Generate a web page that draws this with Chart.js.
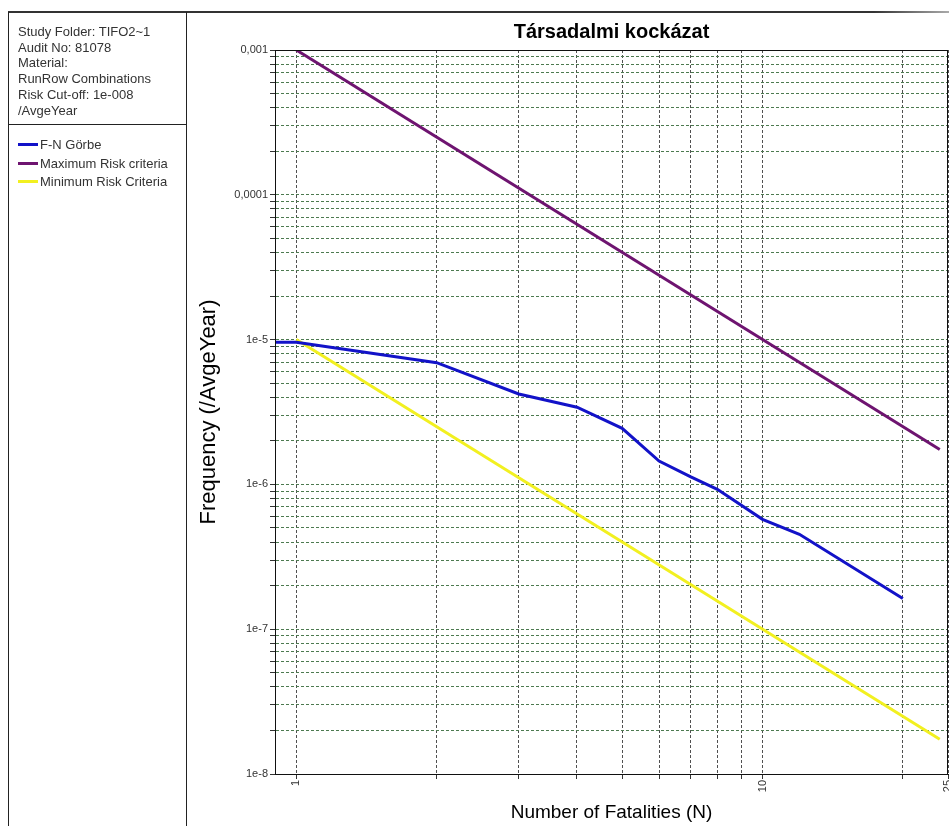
<!DOCTYPE html>
<html>
<head>
<meta charset="utf-8">
<script src="https://cdn.jsdelivr.net/npm/chart.js@4/dist/chart.umd.min.js"></script>
<style>
  html, body { margin: 0; padding: 0; background: #fff; }
  body { width: 949px; height: 826px; position: relative; overflow: hidden;
         font-family: "Liberation Sans", Arial, sans-serif; }
  #chart { position: absolute; left: 0; top: 0; }
  .frame-top { position: absolute; left: 8px; top: 11px; width: 941px; height: 2px;
               background: linear-gradient(to right, #333 0%, #333 92%, #aaa 100%); }
  .panel { position: absolute; left: 8px; top: 12px; width: 177px; height: 814px;
           border-left: 1px solid #222; border-right: 1px solid #222; }
  .info { position: absolute; left: 9px; top: 12px; font-size: 13px; line-height: 15.7px; color: #333; }
  .divider { position: absolute; left: 0; top: 112px; width: 177px; height: 1px; background: #222; }
  .legend { position: absolute; left: 9px; top: 124px; font-size: 13px; color: #333; }
  .legend div { height: 18.5px; line-height: 18.5px; white-space: nowrap; }
  .legend span.sw { display: inline-block; width: 20px; height: 3px; vertical-align: middle;
                    margin-right: 2px; position: relative; top: -1px; }
</style>
</head>
<body>
<canvas id="chart" width="949" height="826"></canvas>
<div class="frame-top"></div>
<div class="panel">
  <div class="info">Study Folder: TIFO2~1<br>Audit No: 81078<br>Material:<br>RunRow Combinations<br>Risk Cut-off: 1e-008<br>/AvgeYear</div>
  <div class="divider"></div>
  <div class="legend" id="legend"></div>
</div>
<script>
// Societal risk F-N data (frequency of N or more fatalities per average year)
const fnN = [0.9, 1, 2, 3, 4, 5, 6, 7, 8, 10, 12, 20];
const fnF = [9.6e-6, 9.6e-6, 6.93e-6, 4.21e-6, 3.41e-6, 2.44e-6, 1.45e-6, 1.13e-6, 9.25e-7, 5.74e-7, 4.52e-7, 1.63e-7];

// Criteria lines
const maxN = [1, 24];
const maxF = [1e-3, 1.74e-6];
const minN = [1, 24];
const minF = [1e-5, 1.74e-8];

const seriesNames = ['F-N Görbe', 'Maximum Risk criteria', 'Minimum Risk Criteria'];
const seriesColors = ['#1212c8', '#6e1470', '#f2f020'];

// Axis ticks / grid positions and their labels
const xGridValues = [1, 2, 3, 4, 5, 6, 7, 8, 9, 10, 20, 25];
const xLabelValues = [1, 10, 25];
const xLabels = ['1', '10', '25'];
const yDecades = [1e-8, 1e-7, 1e-6, 1e-5, 1e-4, 1e-3];
const yLabels = ['1e-8', '1e-7', '1e-6', '1e-5', '0,0001', '0,001'];

function pts(xs, ys) { return xs.map((x, i) => ({ x: x, y: ys[i] })); }

// HTML legend
const legendEl = document.getElementById('legend');
seriesNames.forEach((name, i) => {
  const row = document.createElement('div');
  const sw = document.createElement('span');
  sw.className = 'sw';
  sw.style.background = seriesColors[i];
  row.appendChild(sw);
  row.appendChild(document.createTextNode(name));
  legendEl.appendChild(row);
});

// y grid at every 1..9 multiple of each decade
const yGridValues = [];
for (let d = 0; d < yDecades.length - 1; d++) {
  for (let k = 1; k <= 9; k++) yGridValues.push(k * yDecades[d]);
}
yGridValues.push(yDecades[yDecades.length - 1]);

const plotFrame = {
  id: 'plotFrame',
  afterDraw(chart) {
    const a = chart.chartArea, ctx = chart.ctx;
    ctx.save();
    ctx.strokeStyle = '#111';
    ctx.lineWidth = 1;
    ctx.setLineDash([]);
    ctx.strokeRect(Math.round(a.left) + 0.5, Math.round(a.top) + 0.5,
                   Math.round(a.right - a.left) - 1, Math.round(a.bottom - a.top));
    ctx.restore();
  }
};

const FONT = '"Liberation Sans", Arial, sans-serif';

new Chart(document.getElementById('chart'), {
  type: 'line',
  data: {
    datasets: [
      { label: seriesNames[0], data: pts(fnN, fnF), borderColor: seriesColors[0], borderWidth: 3 },
      { label: seriesNames[1], data: pts(maxN, maxF), borderColor: seriesColors[1], borderWidth: 3 },
      { label: seriesNames[2], data: pts(minN, minF), borderColor: seriesColors[2], borderWidth: 3 }
    ]
  },
  options: {
    responsive: false,
    animation: false,
    events: [],
    elements: { point: { radius: 0 }, line: { tension: 0 } },
    layout: { padding: { left: 188, right: 1, top: 0, bottom: 0 } },
    plugins: {
      legend: { display: false },
      tooltip: { enabled: false },
      title: {
        display: true,
        text: 'Társadalmi kockázat',
        fullSize: false,
        color: '#000',
        font: { family: FONT, size: 20, weight: 'bold', lineHeight: 1.2 },
        padding: { top: 20, bottom: 6 }
      }
    },
    scales: {
      x: {
        type: 'logarithmic',
        min: 0.9,
        max: 25,
        afterBuildTicks(scale) { scale.ticks = xGridValues.map(v => ({ value: v })); },
        afterFit(scale) { scale.height = 52; scale.paddingLeft = 0; scale.paddingRight = 0; },
        ticks: {
          autoSkip: false,
          minRotation: 90,
          maxRotation: 90,
          padding: 1,
          color: '#333',
          font: { family: FONT, size: 11 },
          callback(value) {
            const i = xLabelValues.findIndex(v => Math.abs(v - value) < 1e-9);
            return i >= 0 ? xLabels[i] : '';
          }
        },
        grid: { color: '#505050', lineWidth: 1, drawTicks: true, tickLength: 5,
                tickColor: '#333', tickBorderDash: [] },
        border: { display: true, color: '#111', width: 1, dash: [3, 2] },
        title: {
          display: true,
          text: 'Number of Fatalities (N)',
          color: '#000',
          font: { family: FONT, size: 19, lineHeight: 1.2 },
          padding: { top: 0, bottom: 2 }
        }
      },
      y: {
        type: 'logarithmic',
        min: 1e-8,
        max: 1e-3,
        afterBuildTicks(scale) { scale.ticks = yGridValues.map(v => ({ value: v })); },
        afterFit(scale) { scale.width = 87; scale.paddingTop = 0; scale.paddingBottom = 0; },
        ticks: {
          autoSkip: false,
          padding: 2,
          color: '#333',
          font: { family: FONT, size: 11 },
          callback(value) {
            const i = yDecades.findIndex(v => Math.abs(v - value) / v < 1e-6);
            return i >= 0 ? yLabels[i] : '';
          }
        },
        grid: { color: '#4d7a50', lineWidth: 1, drawTicks: true, tickLength: 5,
                tickColor: '#333', tickBorderDash: [] },
        border: { display: true, color: '#111', width: 1, dash: [3, 2] },
        title: {
          display: true,
          text: 'Frequency (/AvgeYear)',
          color: '#000',
          font: { family: FONT, size: 22, lineHeight: 1.2 },
          padding: { top: 8, bottom: 0 }
        }
      }
    }
  },
  plugins: [plotFrame]
});
</script>
</body>
</html>
